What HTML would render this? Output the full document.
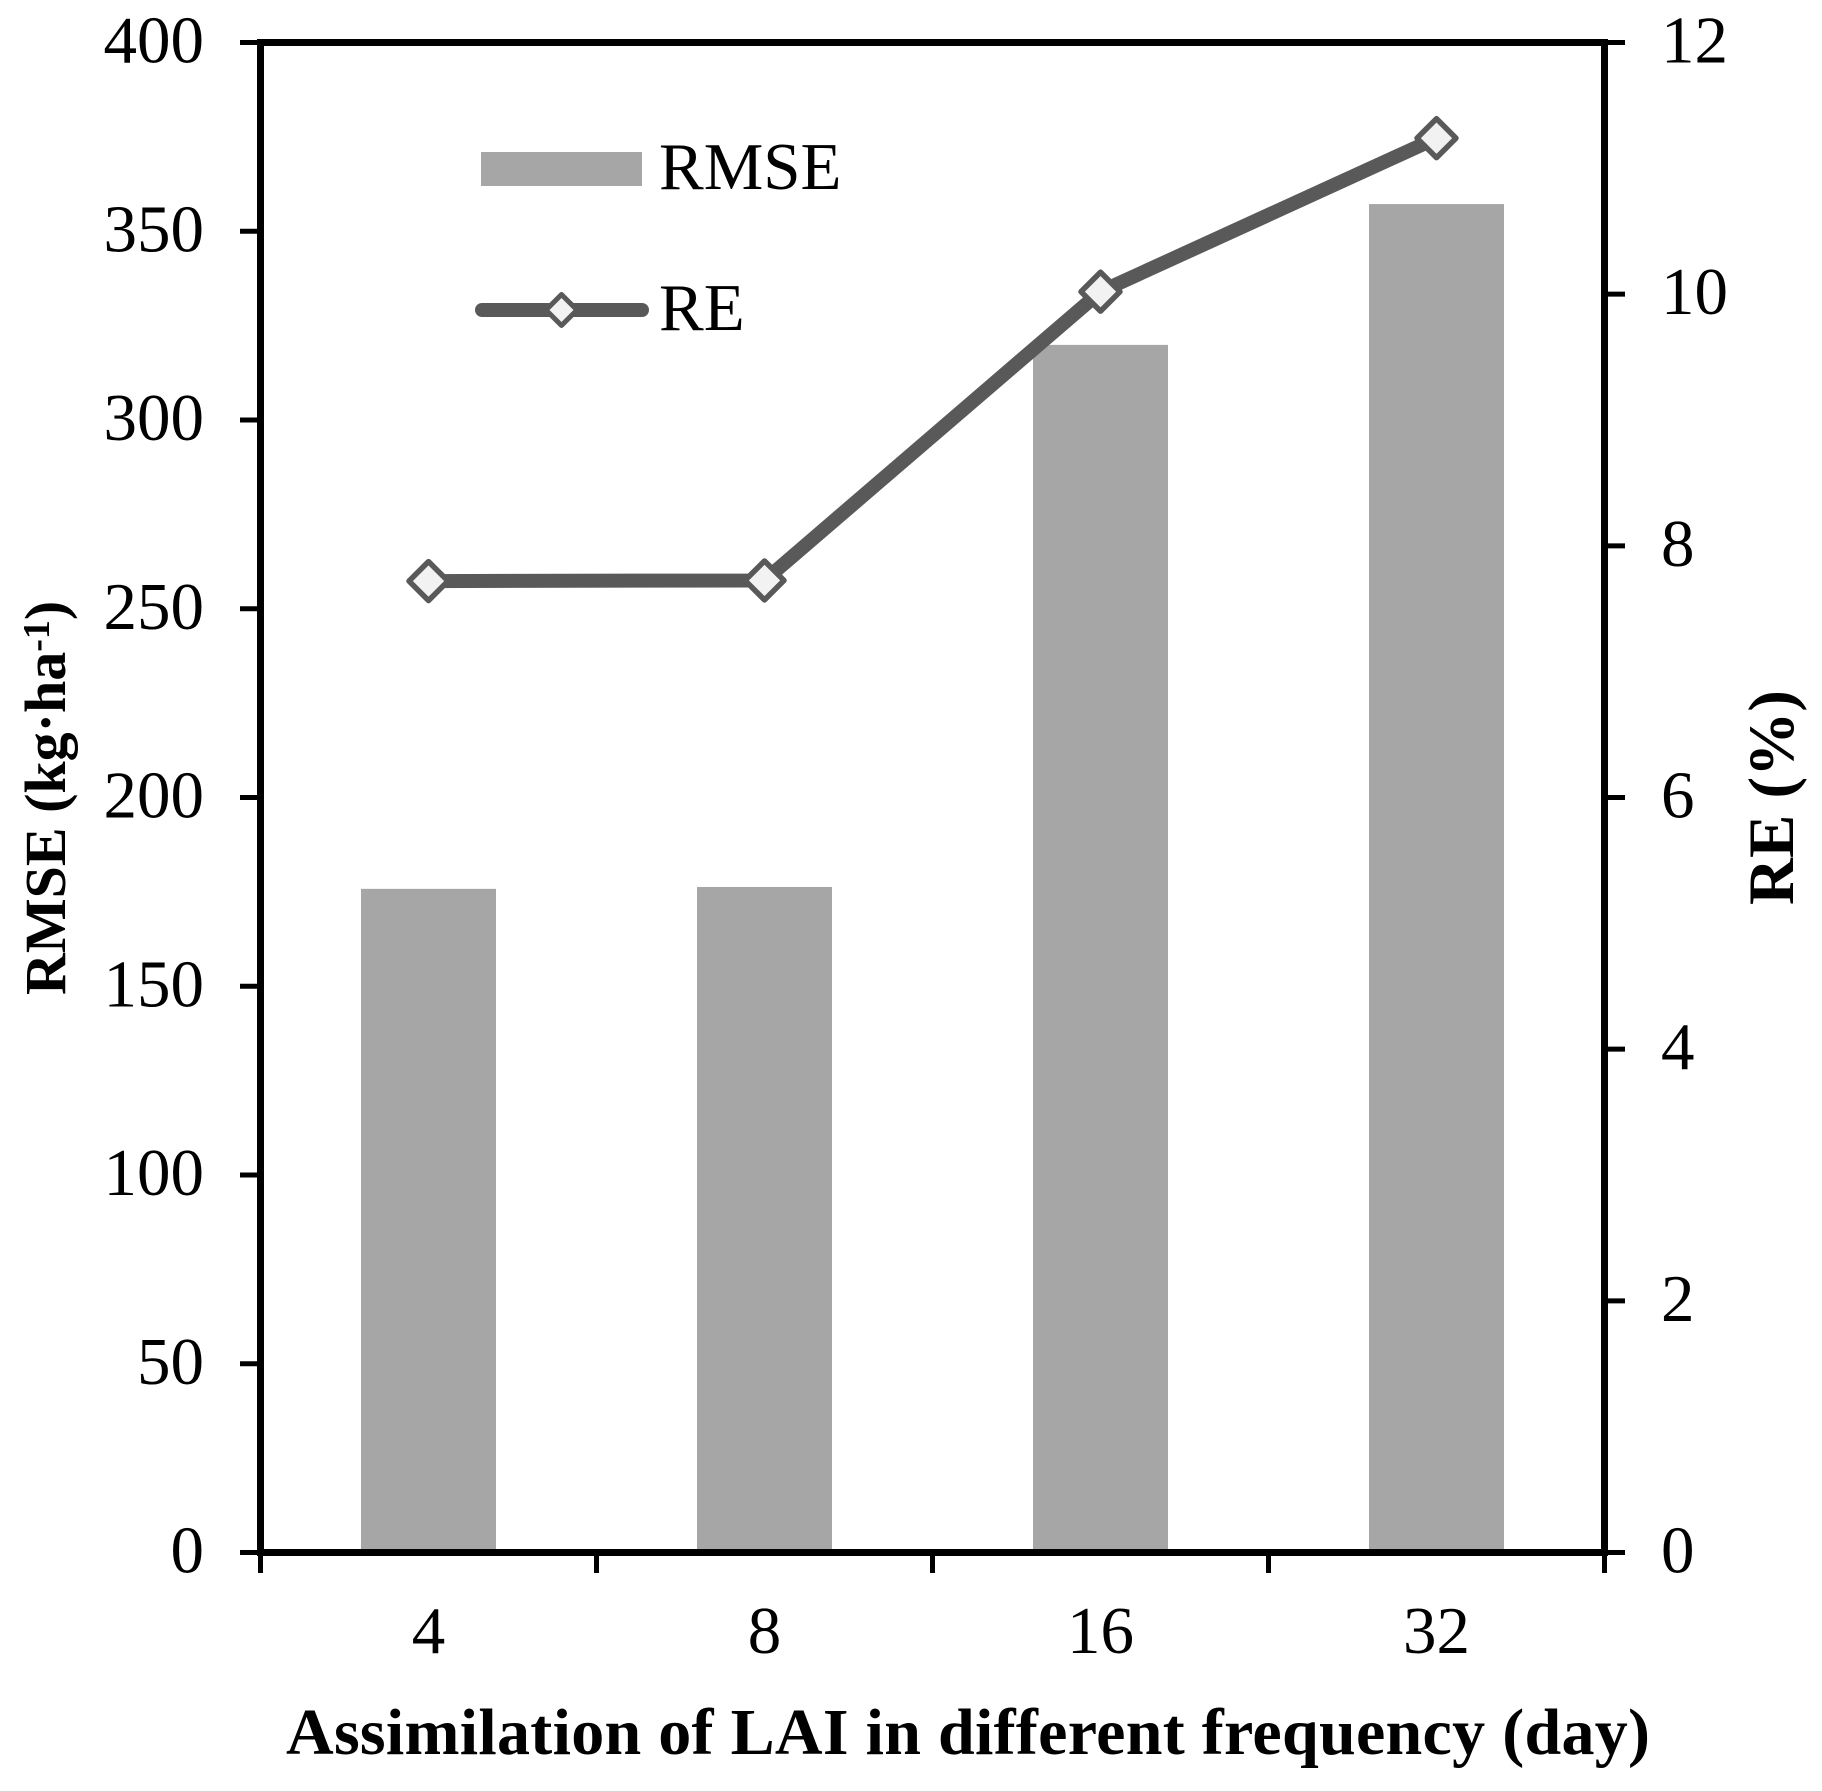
<!DOCTYPE html>
<html>
<head>
<meta charset="utf-8">
<style>
html,body{margin:0;padding:0;background:#fff;}
svg{display:block;}
text{font-family:"Liberation Serif","Times New Roman",serif;fill:#000;}
</style>
</head>
<body>
<svg id="chart" xmlns="http://www.w3.org/2000/svg" width="1822" height="1791" viewBox="0 0 1822 1791">
<rect width="1822" height="1791" fill="#fff"/>
<g id="bars"></g>
<g id="axes"></g>
<g id="series"></g>
<g>
<rect x="481" y="152" width="161" height="34" fill="#a6a6a6"/>
<text x="659" y="189" font-size="67">RMSE</text>
<line x1="482" y1="310" x2="642" y2="310" stroke="#595959" stroke-width="14" stroke-linecap="round"/>
<path d="M561.5 294.5L577 310L561.5 325.5L546 310Z" fill="#f2f2f2" stroke="#595959" stroke-width="5" stroke-linejoin="round"/>
<text x="659" y="330" font-size="67">RE</text>
</g>
<text x="286" y="1754" font-size="66" font-weight="bold" textLength="1364" lengthAdjust="spacing">Assimilation of LAI in different frequency (day)</text>
<text transform="translate(65 995) rotate(-90)" font-size="58" font-weight="bold">RMSE (kg·ha<tspan font-size="38" dy="-16">-1</tspan><tspan dy="16">)</tspan></text>
<text transform="translate(1793 905) rotate(-90)" font-size="65" font-weight="bold">RE (%)</text>
</svg>
<script>
var categories = ['4', '8', '16', '32'];
var rmseValues = [175.8, 176.3, 319.9, 357.2];
var reValues = [7.72, 7.725, 10.02, 11.24];
var leftTicks = [0, 50, 100, 150, 200, 250, 300, 350, 400];
var rightTicks = [0, 2, 4, 6, 8, 10, 12];

var NS = 'http://www.w3.org/2000/svg';
var plotLeft = 260.5, plotRight = 1604.5, plotTop = 42.5, plotBottom = 1552.5;
var leftMax = 400, rightMax = 12, barWidth = 135;

function xBand(i) { return plotLeft + (plotRight - plotLeft) * i / categories.length; }
function xCenter(i) { return xBand(i + 0.5); }
function yLeft(v) { return plotBottom - (plotBottom - plotTop) * v / leftMax; }
function yRight(v) { return plotBottom - (plotBottom - plotTop) * v / rightMax; }

function make(tag, parent, attrs) {
  var el = document.createElementNS(NS, tag);
  for (var k in attrs) { el.setAttribute(k, attrs[k]); }
  parent.appendChild(el);
  return el;
}

var barsG = document.getElementById('bars');
var axesG = document.getElementById('axes');
var seriesG = document.getElementById('series');

rmseValues.forEach(function (v, i) {
  var bar = make('rect', barsG, {
    x: xCenter(i) - barWidth / 2,
    y: yLeft(v),
    width: barWidth,
    height: yLeft(0) - yLeft(v),
    fill: '#a6a6a6'
  });
  
  
});

leftTicks.forEach(function (t) {
  var tick = make('line', axesG, { x1: 240, x2: plotLeft, y1: yLeft(t), y2: yLeft(t), stroke: '#000', 'stroke-width': 5 });
  
  
  var label = make('text', axesG, { x: 204, y: yLeft(t) + 20, 'font-size': 67, 'text-anchor': 'end' });
  label.textContent = t;
  
  
});

rightTicks.forEach(function (t) {
  var tick = make('line', axesG, { x1: plotRight, x2: 1625, y1: yRight(t), y2: yRight(t), stroke: '#000', 'stroke-width': 5 });
  
  
  var label = make('text', axesG, { x: 1661, y: yRight(t) + 20, 'font-size': 67 });
  label.textContent = t;
  
  
});

for (var b = 0; b <= categories.length; b++) {
  var xTick = make('line', axesG, { x1: xBand(b), x2: xBand(b), y1: plotBottom, y2: 1573, stroke: '#000', 'stroke-width': 5 });
  
  
}

categories.forEach(function (c, i) {
  var label = make('text', axesG, { x: xCenter(i), y: 1653, 'font-size': 67, 'text-anchor': 'middle' });
  label.textContent = c;
  
  
});

var frame = make('path', axesG, {
  d: 'M' + plotLeft + ' ' + plotTop + 'H' + plotRight + 'V' + plotBottom + 'H' + plotLeft + 'Z',
  fill: 'none', stroke: '#000', 'stroke-width': 7
});



var linePts = reValues.map(function (v, i) { return xCenter(i) + ',' + yRight(v); }).join(' ');
var reLine = make('polyline', seriesG, { points: linePts, fill: 'none', stroke: '#595959', 'stroke-width': 14, 'stroke-linejoin': 'round' });



reValues.forEach(function (v, i) {
  var cx = xCenter(i), cy = yRight(v), r = 19.5;
  var marker = make('path', seriesG, {
    d: 'M' + cx + ' ' + (cy - r) + 'L' + (cx + r) + ' ' + cy + 'L' + cx + ' ' + (cy + r) + 'L' + (cx - r) + ' ' + cy + 'Z',
    fill: '#f2f2f2', stroke: '#595959', 'stroke-width': 5.5, 'stroke-linejoin': 'round'
  });
  
  
});
</script>
</body>
</html>
